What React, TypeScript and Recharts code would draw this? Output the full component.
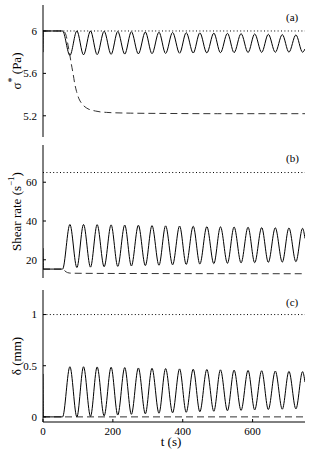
import { LineChart, Line, XAxis, YAxis, Label } from "recharts";

const FONT = "'Liberation Serif', 'Times New Roman', serif";

// time stamps of the oscillation extrema (s), shared by the three solid curves
const T = [
  0, 1, 56, 77, 97, 116, 136, 155, 175, 195, 214, 234, 253, 273, 293, 312, 332, 351, 371,
  391, 410, 430, 449, 469, 489, 508, 528, 547, 567, 587, 606, 626, 645, 665, 685, 704, 724,
  743, 750,
];

// (a) sigma* (Pa)
const SIGMA = [
  5.8, 6, 6, 5.77, 6.0, 5.775, 6.0, 5.777, 5.997, 5.78, 5.995, 5.782, 5.993, 5.784, 5.99,
  5.786, 5.988, 5.788, 5.986, 5.79, 5.984, 5.792, 5.982, 5.793, 5.98, 5.795, 5.978, 5.796,
  5.975, 5.797, 5.972, 5.798, 5.969, 5.799, 5.966, 5.8, 5.963, 5.8, 5.83,
];
const SIGMA_DASH_T = [0, 58, 66, 72, 77, 81, 86, 91, 96, 103, 110, 124, 150, 182, 250, 353, 500, 750];
const SIGMA_DASH = [6, 6, 5.96, 5.86, 5.77, 5.69, 5.6, 5.5, 5.43, 5.36, 5.32, 5.275, 5.245, 5.232, 5.225, 5.222, 5.22, 5.22];
const SIGMA_LIMIT = [6, 6];

// (b) shear rate (1/s)
const SHEAR = [
  26, 15.2, 15.2, 38.2, 16.0, 38.2, 16.2, 38.1, 16.4, 38.0, 16.6, 37.9, 16.8, 37.8, 17.0,
  37.6, 17.2, 37.5, 17.4, 37.4, 17.6, 37.3, 17.8, 37.1, 18.0, 37.0, 18.2, 36.9, 18.4, 36.8,
  18.5, 36.6, 18.7, 36.5, 18.8, 36.4, 19.0, 36.2, 31,
];
const SHEAR_DASH_T = [0, 57, 63, 70, 80, 120, 300, 750];
const SHEAR_DASH = [15.2, 15.2, 14.2, 13.4, 13.1, 13.0, 12.9, 12.8];
const SHEAR_LIMIT = [65, 65];

// (c) delta (mm)
const DELTA = [
  0.42, 0, 0, 0.49, 0.0, 0.49, 0.005, 0.488, 0.01, 0.485, 0.018, 0.482, 0.025, 0.478, 0.03,
  0.475, 0.036, 0.472, 0.04, 0.469, 0.045, 0.466, 0.05, 0.463, 0.055, 0.46, 0.06, 0.457,
  0.064, 0.454, 0.068, 0.451, 0.072, 0.448, 0.075, 0.445, 0.078, 0.442, 0.34,
];
const DELTA_DASH_T = [0, 750];
const DELTA_DASH = [0, 0];
const DELTA_LIMIT = [1, 1];

const LIMIT_T = [0, 750];
const T_TICKS = [0, 200, 400, 600];
const SIGMA_TICKS = [5.2, 5.6, 6];
const SHEAR_TICKS = [20, 40, 60];
const DELTA_TICKS = [0, 0.5, 1];

const zip = (ts: number[], vs: number[]) => ts.map((t, i) => ({ t, v: vs[i] }));

const blank = () => "";
const TICK = { fontSize: 11, fill: "#000", fontFamily: FONT };

type PanelProps = {
  top: number;
  height: number;
  bottomAxis?: boolean;
  domain: [number, number];
  ticks: number[];
  solid: { t: number; v: number }[];
  dashed: { t: number; v: number }[];
  limit: { t: number; v: number }[];
  ylabel: React.ReactNode;
  tag: string;
  tagTop: number;
};

const Panel = ({ top, height, bottomAxis, domain, ticks, solid, dashed, limit, ylabel, tag, tagTop }: PanelProps) => (
  <div style={{ position: "absolute", left: 0, top, width: 311, height }}>
    <LineChart
      width={311}
      height={height}
      margin={{ top: 5, right: 6, bottom: bottomAxis ? 0 : 5, left: 0 }}
      style={{ fontFamily: FONT }}
    >
      <XAxis
        xAxisId="b"
        dataKey="t"
        type="number"
        domain={[0, 750]}
        ticks={T_TICKS}
        allowDataOverflow
        height={bottomAxis ? 30 : 0}
        tickSize={-3}
        tickMargin={8}
        stroke="#000"
        tick={TICK}
        tickFormatter={bottomAxis ? undefined : blank}
      >
        {bottomAxis && (
          <Label
            content={(p: any) => {
              const vb = p.viewBox || { x: 43, width: 262, y: 422 };
              return (
                <text x={vb.x + vb.width / 2 - 3} y={vb.y + 24} textAnchor="middle" fontSize={13} fontFamily={FONT} fill="#000">
                  t (s)
                </text>
              );
            }}
          />
        )}
      </XAxis>
      <XAxis
        xAxisId="t"
        orientation="top"
        dataKey="t"
        type="number"
        domain={[0, 750]}
        ticks={T_TICKS}
        allowDataOverflow
        height={0}
        tickSize={-3}
        stroke="#000"
        tickFormatter={blank}
      />
      <YAxis
        yAxisId="l"
        type="number"
        domain={domain}
        ticks={ticks}
        allowDataOverflow
        width={43}
        tickSize={-3}
        tickMargin={9}
        stroke="#000"
        tick={TICK}
      >
        <Label
          content={(p: any) => {
            const vb = p.viewBox || { y: 5, height: 132 };
            const cx = 16;
            const cy = vb.y + vb.height / 2;
            return (
              <text
                x={cx}
                y={cy}
                transform={`rotate(-90 ${cx} ${cy})`}
                textAnchor="middle"
                dominantBaseline="central"
                fontSize={13}
                fontFamily={FONT}
                fill="#000"
              >
                {ylabel}
              </text>
            );
          }}
        />
      </YAxis>
      <YAxis
        yAxisId="r"
        orientation="right"
        type="number"
        domain={domain}
        ticks={ticks}
        allowDataOverflow
        width={0}
        tickSize={-3}
        stroke="#000"
        tickFormatter={blank}
      />
      <Line
        xAxisId="b"
        yAxisId="l"
        data={limit}
        dataKey="v"
        type="linear"
        stroke="#000"
        strokeWidth={1}
        strokeDasharray="1 2.4"
        dot={false}
        isAnimationActive={false}
      />
      <Line
        xAxisId="b"
        yAxisId="l"
        data={dashed}
        dataKey="v"
        type="monotone"
        stroke="#333"
        strokeWidth={1}
        strokeDasharray="7 4"
        dot={false}
        isAnimationActive={false}
      />
      <Line
        xAxisId="b"
        yAxisId="l"
        data={solid}
        dataKey="v"
        type="monotone"
        stroke="#000"
        strokeWidth={1}
        dot={false}
        isAnimationActive={false}
      />
    </LineChart>
    <div
      style={{
        position: "absolute",
        left: 286,
        top: tagTop,
        fontFamily: FONT,
        fontSize: 11,
        lineHeight: "12px",
        color: "#000",
      }}
    >
      {tag}
    </div>
  </div>
);

export default function App() {
  return (
    <div style={{ position: "absolute", left: 0, top: 0, width: 311, height: 452, background: "#fff" }}>
      <Panel
        top={0}
        height={142}
        domain={[5.0, 6.245]}
        ticks={SIGMA_TICKS}
        solid={zip(T, SIGMA)}
        dashed={zip(SIGMA_DASH_T, SIGMA_DASH)}
        limit={zip(LIMIT_T, SIGMA_LIMIT)}
        ylabel={
          <>
            σ
            <tspan dy={-5} fontSize={10}>*</tspan>
            <tspan dy={5}> (Pa)</tspan>
          </>
        }
        tag="(a)"
        tagTop={11}
      />
      <Panel
        top={140}
        height={143}
        domain={[10.6, 79.2]}
        ticks={SHEAR_TICKS}
        solid={zip(T, SHEAR)}
        dashed={zip(SHEAR_DASH_T, SHEAR_DASH)}
        limit={zip(LIMIT_T, SHEAR_LIMIT)}
        ylabel={
          <>
            Shear rate (s
            <tspan dy={-5} fontSize={9}>−1</tspan>
            <tspan dy={5}>)</tspan>
          </>
        }
        tag="(b)"
        tagTop={12}
      />
      <Panel
        top={285}
        height={167}
        bottomAxis
        domain={[-0.05, 1.24]}
        ticks={DELTA_TICKS}
        solid={zip(T, DELTA)}
        dashed={zip(DELTA_DASH_T, DELTA_DASH)}
        limit={zip(LIMIT_T, DELTA_LIMIT)}
        ylabel={<>δ (mm)</>}
        tag="(c)"
        tagTop={11}
      />
    </div>
  );
}
